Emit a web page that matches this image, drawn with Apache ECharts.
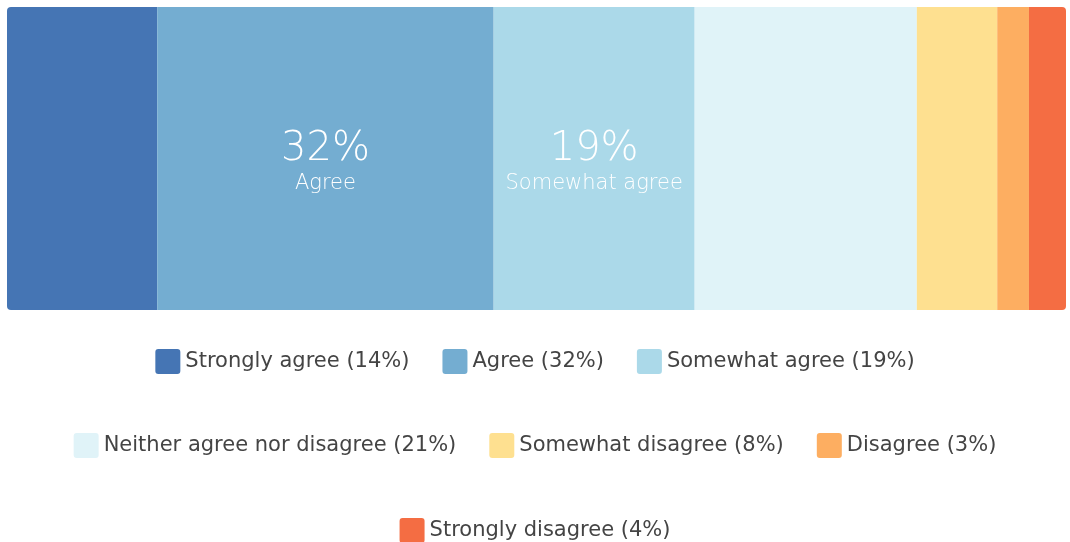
<!DOCTYPE html>
<html>
<head>
<meta charset="utf-8">
<script src="https://cdn.jsdelivr.net/npm/echarts@6/dist/echarts.min.js"></script>
<style>
  html, body { margin: 0; padding: 0; background: #ffffff; }
  #chart { width: 1070px; height: 542px; }
</style>
</head>
<body>
<div id="chart"></div>
<script>
// Response categories, shares (%) and segment colours
const categories = ['Strongly agree', 'Agree', 'Somewhat agree', 'Neither agree nor disagree', 'Somewhat disagree', 'Disagree', 'Strongly disagree'];
const shares = [14.2, 31.8, 19.0, 21.0, 7.6, 3.0, 3.5];
const colors = ['#4575b4', '#74add1', '#abd9e9', '#e0f3f8', '#fee090', '#fdae61', '#f46d43'];
// Segments that carry an inline value label
const labelled = ['Agree', 'Somewhat agree'];
// Legend rows
const legendRows = [
  ['Strongly agree', 'Agree', 'Somewhat agree'],
  ['Neither agree nor disagree', 'Somewhat disagree', 'Disagree'],
  ['Strongly disagree']
];

const FONT = '"DejaVu Sans", sans-serif';
const shareOf = name => shares[categories.indexOf(name)];
const total = shares.reduce((a, b) => a + b, 0);

// Square legend swatch with small rounded corners
const SWATCH = 'path://M3,0 H22 A3,3 0 0 1 25,3 V22 A3,3 0 0 1 22,25 H3 A3,3 0 0 1 0,22 V3 A3,3 0 0 1 3,0 Z';

const series = categories.map((name, i) => {
  const last = categories.length - 1;
  let radius = 0;
  if (i === 0) radius = [4, 0, 0, 4];
  else if (i === last) radius = [0, 4, 4, 0];
  return {
    name: name,
    type: 'bar',
    stack: 'total',
    barWidth: '100%',
    data: [shares[i]],
    itemStyle: { color: colors[i], borderRadius: radius },
    emphasis: { disabled: true },
    label: {
      show: labelled.includes(name),
      position: 'inside',
      offset: [0, 3],
      formatter: p => '{v|' + Math.round(p.value) + '%}\n{n|' + name + '}',
      rich: {
        v: { fontFamily: FONT, fontSize: 40, fontWeight: 200, color: '#ffffff', lineHeight: 44, align: 'center' },
        n: { fontFamily: FONT, fontSize: 21, fontWeight: 200, color: '#ffffff', lineHeight: 24, align: 'center' }
      }
    }
  };
});

const legendTops = [344, 428, 513];
const legends = legendRows.map((row, r) => ({
  data: row,
  top: legendTops[r],
  left: 'center',
  orient: 'horizontal',
  icon: SWATCH,
  itemWidth: 25,
  itemHeight: 25,
  itemGap: 33,
  selectedMode: false,
  textStyle: { fontFamily: FONT, fontSize: 21, color: '#444444', padding: [0, 0, 0, 0] },
  formatter: name => name + ' (' + Math.round(shareOf(name)) + '%)'
}));

const chart = echarts.init(document.getElementById('chart'), null, { renderer: 'canvas' });
chart.setOption({
  animation: false,
  backgroundColor: '#ffffff',
  grid: { left: 7, right: 4, top: 7, height: 303, containLabel: false },
  xAxis: { type: 'value', min: 0, max: total, show: false },
  yAxis: { type: 'category', data: ['Responses'], show: false },
  legend: legends,
  series: series
});
</script>
</body>
</html>
